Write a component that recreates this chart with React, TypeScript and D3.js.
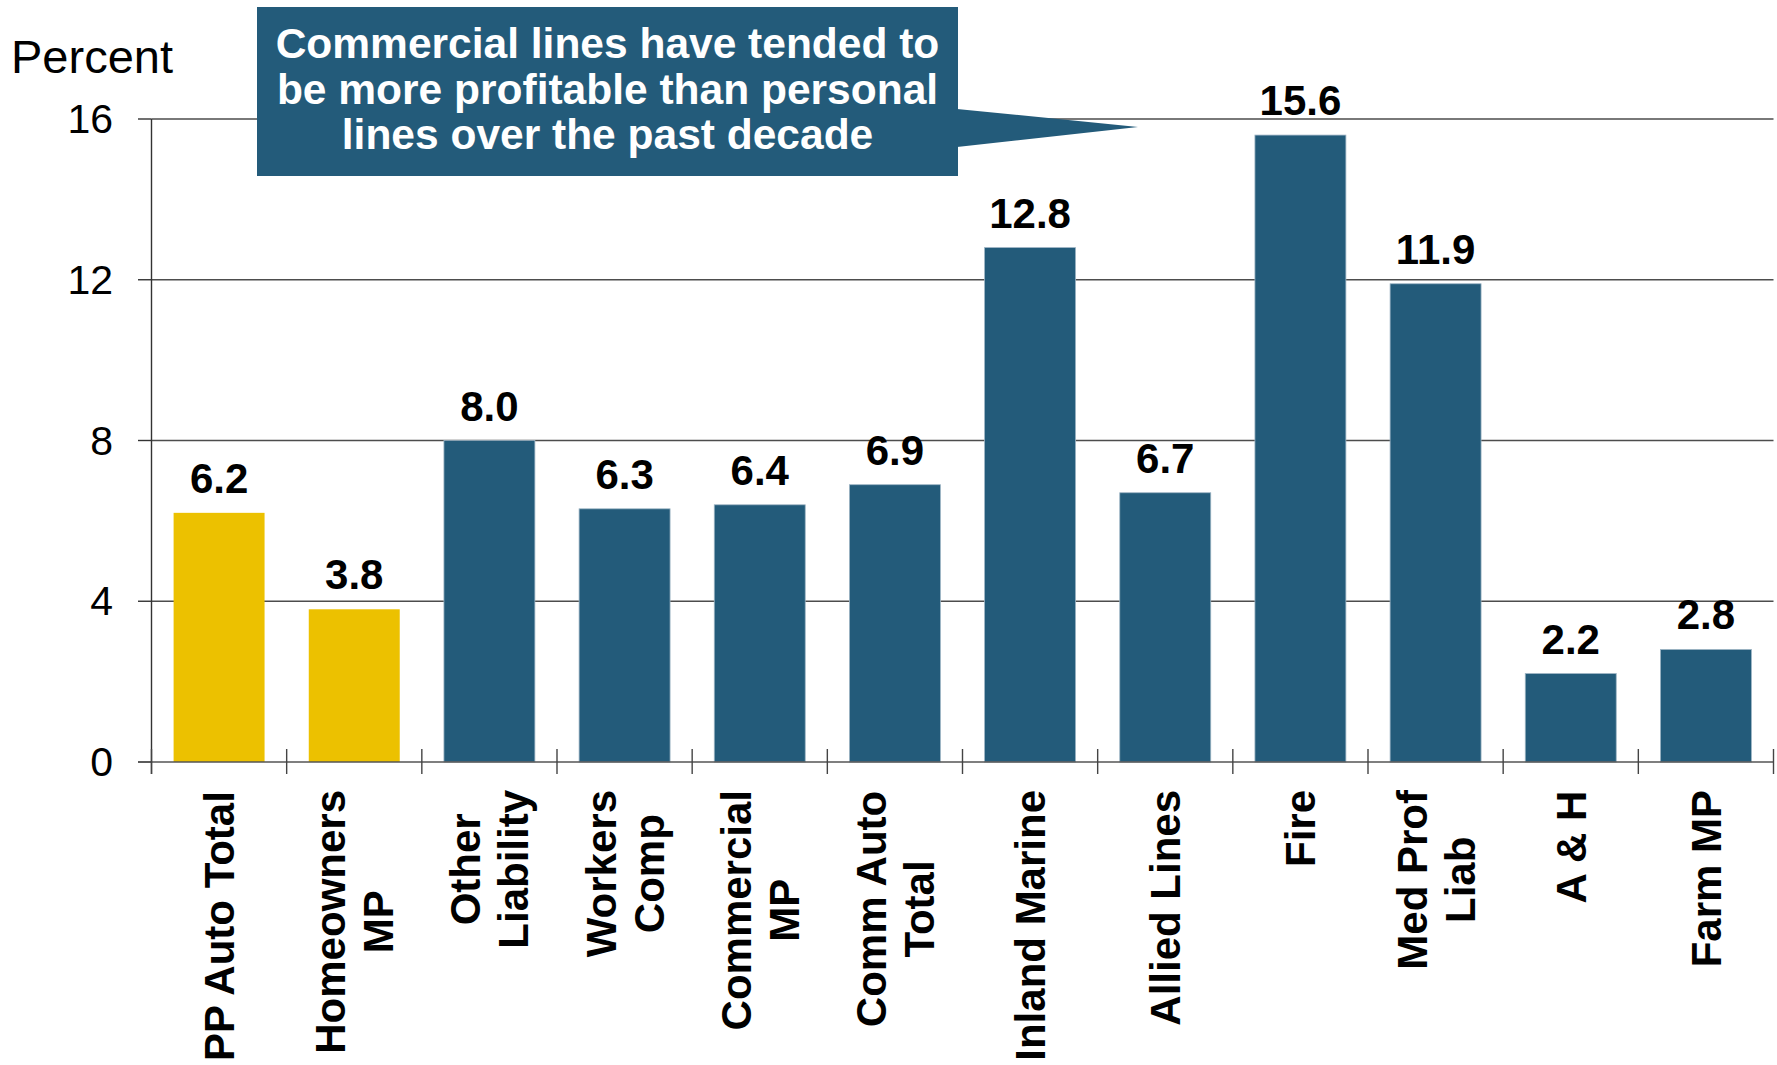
import React, { useMemo } from "react";
import * as d3 from "d3";

const categoryLabels: string[] = [
  "PP Auto Total",
  "Homeowners\nMP",
  "Other\nLiability",
  "Workers\nComp",
  "Commercial\nMP",
  "Comm Auto\nTotal",
  "Inland Marine",
  "Allied Lines",
  "Fire",
  "Med Prof\nLiab",
  "A & H",
  "Farm MP",
];
const values: number[] = [6.2, 3.8, 8.0, 6.3, 6.4, 6.9, 12.8, 6.7, 15.6, 11.9, 2.2, 2.8];
const lineTypes: string[] = [
  "Personal", "Personal", "Commercial", "Commercial", "Commercial", "Commercial",
  "Commercial", "Commercial", "Commercial", "Commercial", "Commercial", "Commercial",
];
const yTicks: number[] = [0, 4, 8, 12, 16];
const yAxisTitle = "Percent";
const calloutLines: string[] = [
  "Commercial lines have tended to",
  "be more profitable than personal",
  "lines over the past decade",
];

const W = 1777;
const H = 1065;
const FONT = "'Liberation Sans', Arial, sans-serif";
const BLUE = "#235B7A";
const YELLOW = "#ECC100";

function measure(text: string, font: string): number {
  const c = document.createElement("canvas");
  const ctx = c.getContext("2d")!;
  ctx.font = font;
  return ctx.measureText(text).width;
}

export default function App() {
  const x = d3
    .scaleBand<string>()
    .domain(categoryLabels)
    .range([151.5, 1773.5])
    .paddingInner(0.327)
    .paddingOuter(0.1635);
  const y = d3.scaleLinear().domain([0, 16]).range([762, 119]);
  const color = d3.scaleOrdinal<string, string>().domain(["Personal", "Commercial"]).range([YELLOW, BLUE]);

  const step = x.step();
  const left = 151.5;
  const right = 1773.5;
  const boundaries = d3.range(categoryLabels.length + 1).map((i) => left + i * step);

  const labelFont = `bold 42px ${FONT}`;
  const labelData = useMemo(
    () =>
      categoryLabels.map((c) => {
        const lines = c.split("\n");
        const wmax = d3.max(lines, (l) => measure(l, labelFont)) || 0;
        return { c, lines, wmax };
      }),
    []
  );

  const boxX = 257, boxY = 7, boxW = 701, boxH = 169;

  return (
    <svg
      width={W}
      height={H}
      style={{ position: "absolute", left: 0, top: 0, background: "#fff" }}
      fontFamily={FONT}
    >
      <rect x={0} y={0} width={W} height={H} fill="#fff" />
      {yTicks
        .filter((t) => t > 0)
        .map((t) => (
          <line key={t} x1={left} x2={right} y1={y(t)} y2={y(t)} stroke="#4d4d4d" strokeWidth={1.4} />
        ))}
      {yTicks.map((t) => (
        <g key={"yt" + t}>
          <line x1={138} x2={left} y1={y(t)} y2={y(t)} stroke="#333" strokeWidth={1.4} />
          <text x={113} y={y(t) + 14} textAnchor="end" fontSize={41} fill="#000">
            {t}
          </text>
        </g>
      ))}
      <text x={11} y={73} fontSize={47} fill="#000">
        {yAxisTitle}
      </text>
      {categoryLabels.map((c, i) => (
        <rect
          key={c}
          x={x(c)!}
          y={y(values[i])}
          width={x.bandwidth()}
          height={y(0) - y(values[i])}
          fill={color(lineTypes[i])}
          stroke={lineTypes[i] === "Commercial" ? "#9db4c4" : "none"}
          strokeWidth={0.8}
        />
      ))}
      {categoryLabels.map((c, i) => (
        <text
          key={"v" + c}
          x={x(c)! + x.bandwidth() / 2}
          y={y(values[i]) - 20}
          textAnchor="middle"
          fontSize={42}
          fontWeight="bold"
          fill="#000"
        >
          {values[i].toFixed(1)}
        </text>
      ))}
      <line x1={138} x2={right} y1={y(0)} y2={y(0)} stroke="#555" strokeWidth={1.4} />
      <line x1={left} x2={left} y1={y(16)} y2={774} stroke="#333" strokeWidth={1.4} />
      {boundaries.map((b, i) => (
        <line key={"xt" + i} x1={b} x2={b} y1={749} y2={774} stroke="#444" strokeWidth={1.4} />
      ))}
      {labelData.map((d) => {
        const cx = x(d.c)! + x.bandwidth() / 2;
        const n = d.lines.length;
        return (
          <g key={"xl" + d.c} transform={`translate(${cx},790) rotate(-90)`}>
            {d.lines.map((l, j) => (
              <text
                key={j}
                x={-d.wmax / 2}
                y={(j - (n - 1) / 2) * 48 + 15}
                textAnchor="middle"
                fontSize={42}
                fontWeight="bold"
                fill="#000"
              >
                {l}
              </text>
            ))}
          </g>
        );
      })}
      <rect x={boxX} y={boxY} width={boxW} height={boxH} fill={BLUE} />
      <polygon
        points={`${boxX + boxW - 1},109 1138,127 ${boxX + boxW - 1},147`}
        fill={BLUE}
      />
      {calloutLines.map((l, i) => (
        <text
          key={"c" + i}
          x={boxX + boxW / 2}
          y={58 + i * 45.5}
          textAnchor="middle"
          fontSize={42.5}
          fontWeight="bold"
          fill="#fff"
        >
          {l}
        </text>
      ))}
    </svg>
  );
}
